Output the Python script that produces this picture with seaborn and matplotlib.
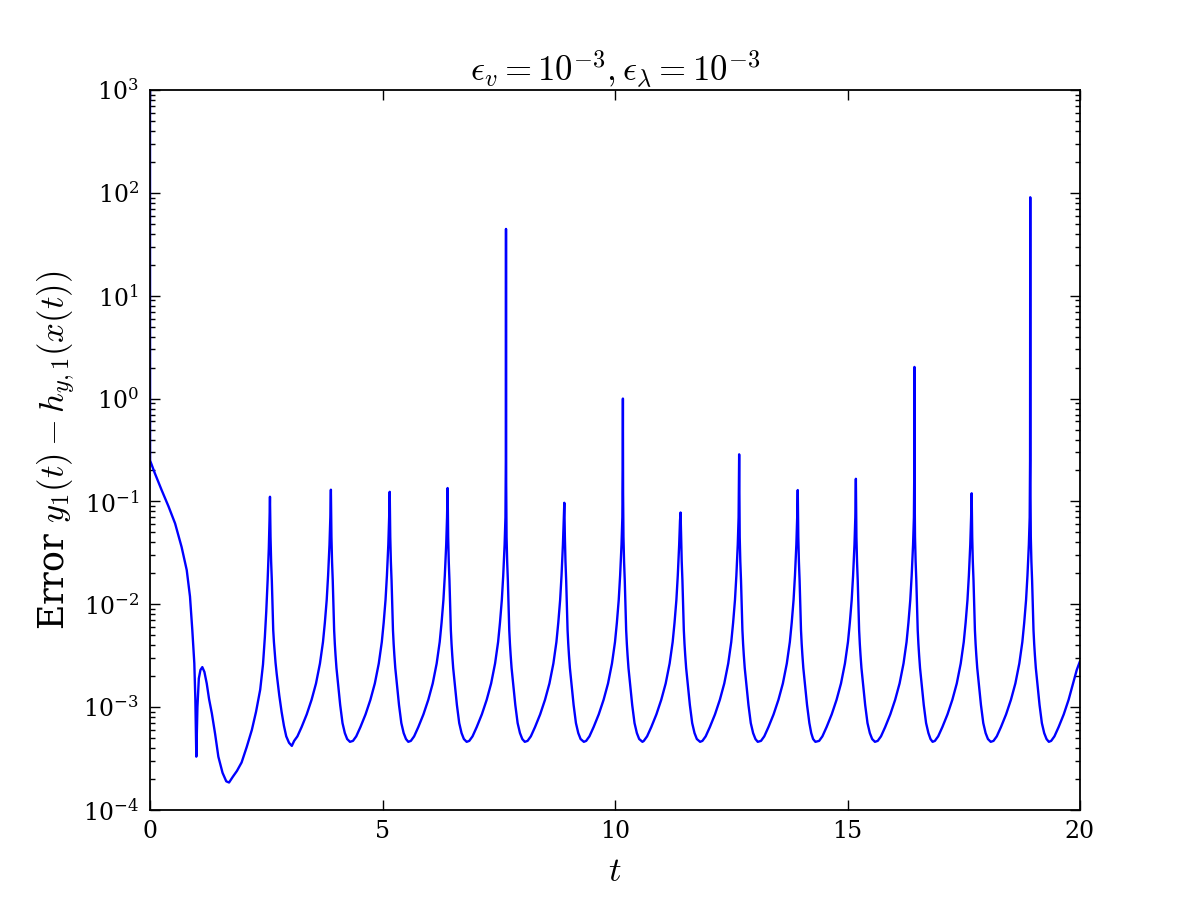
import matplotlib
matplotlib.use("Agg")
import matplotlib.pyplot as plt
import matplotlib.ticker as mticker
import seaborn as sns
import pandas as pd

# ---- data (one line per rise / fall segment) ----
t_vals = [
    0.0, 0.002, 0.1, 0.25, 0.4, 0.54, 0.68, 0.79, 0.86, 0.91, 0.953, 0.975, 0.996,
    1.02, 1.05, 1.085, 1.125, 1.17, 1.22, 1.27, 1.33, 1.40, 1.47, 1.56, 1.64, 1.70,
    1.78, 1.87, 1.97, 2.08, 2.19, 2.28, 2.37, 2.43, 2.47, 2.50, 2.53, 2.555, 2.57, 2.58,
    2.592, 2.605, 2.62, 2.635, 2.65, 2.665, 2.68, 2.70, 2.725, 2.75, 2.78, 2.83, 2.88, 2.93, 2.99, 3.05,
    3.10, 3.17, 3.26, 3.37, 3.475, 3.57, 3.655, 3.72, 3.76, 3.80, 3.83, 3.86, 3.878, 3.89,
    3.902, 3.915, 3.93, 3.945, 3.96, 3.975, 3.99, 4.01, 4.035, 4.06, 4.09, 4.14, 4.19, 4.24, 4.30,
    4.365, 4.435, 4.525, 4.635, 4.74, 4.835, 4.92, 4.985, 5.025, 5.065, 5.095, 5.125, 5.143, 5.155,
    5.167, 5.18, 5.195, 5.21, 5.225, 5.24, 5.255, 5.275, 5.30, 5.325, 5.355, 5.405, 5.455, 5.505, 5.555,
    5.61, 5.68, 5.77, 5.88, 5.985, 6.08, 6.165, 6.23, 6.27, 6.31, 6.34, 6.37, 6.388, 6.40,
    6.412, 6.425, 6.44, 6.455, 6.47, 6.485, 6.50, 6.52, 6.545, 6.57, 6.60, 6.65, 6.70, 6.75, 6.81,
    6.866, 6.936, 7.026, 7.136, 7.241, 7.336, 7.421, 7.486, 7.526, 7.566, 7.596, 7.626, 7.644, 7.652, 7.656,
    7.660, 7.668, 7.681, 7.696, 7.711, 7.726, 7.741, 7.756, 7.776, 7.801, 7.826, 7.856, 7.906, 7.956, 8.006, 8.06,
    8.12, 8.19, 8.28, 8.39, 8.495, 8.59, 8.675, 8.74, 8.78, 8.82, 8.85, 8.88, 8.898, 8.91,
    8.922, 8.935, 8.95, 8.965, 8.98, 8.995, 9.01, 9.03, 9.055, 9.08, 9.11, 9.16, 9.21, 9.26, 9.33,
    9.38, 9.45, 9.54, 9.65, 9.755, 9.85, 9.935, 10.0, 10.04, 10.08, 10.11, 10.14, 10.158, 10.166, 10.17,
    10.174, 10.182, 10.195, 10.21, 10.225, 10.24, 10.255, 10.27, 10.29, 10.315, 10.34, 10.37, 10.42, 10.47, 10.52, 10.59,
    10.62, 10.69, 10.78, 10.89, 10.995, 11.09, 11.175, 11.24, 11.28, 11.32, 11.35, 11.38, 11.398, 11.41,
    11.422, 11.435, 11.45, 11.465, 11.48, 11.495, 11.51, 11.53, 11.555, 11.58, 11.61, 11.66, 11.71, 11.76, 11.83,
    11.88, 11.95, 12.04, 12.15, 12.255, 12.35, 12.435, 12.50, 12.54, 12.58, 12.61, 12.64, 12.658, 12.67,
    12.682, 12.695, 12.71, 12.725, 12.74, 12.755, 12.77, 12.79, 12.815, 12.84, 12.87, 12.92, 12.97, 13.02, 13.07,
    13.14, 13.21, 13.30, 13.41, 13.515, 13.61, 13.695, 13.76, 13.80, 13.84, 13.87, 13.90, 13.918, 13.93,
    13.942, 13.955, 13.97, 13.985, 14.00, 14.015, 14.03, 14.05, 14.075, 14.10, 14.13, 14.18, 14.22, 14.26, 14.31,
    14.39, 14.46, 14.55, 14.66, 14.765, 14.86, 14.945, 15.01, 15.05, 15.09, 15.12, 15.15, 15.168, 15.18,
    15.192, 15.205, 15.22, 15.235, 15.25, 15.265, 15.28, 15.30, 15.325, 15.35, 15.38, 15.43, 15.48, 15.53, 15.59,
    15.65, 15.72, 15.81, 15.92, 16.025, 16.12, 16.205, 16.27, 16.31, 16.35, 16.38, 16.41, 16.428, 16.436, 16.44,
    16.444, 16.452, 16.465, 16.48, 16.495, 16.51, 16.525, 16.54, 16.56, 16.585, 16.61, 16.64, 16.69, 16.74, 16.785, 16.83,
    16.88, 16.95, 17.04, 17.15, 17.255, 17.35, 17.435, 17.50, 17.54, 17.58, 17.61, 17.64, 17.658, 17.67,
    17.682, 17.695, 17.71, 17.725, 17.74, 17.755, 17.77, 17.79, 17.815, 17.84, 17.87, 17.92, 17.97, 18.02, 18.08,
    18.14, 18.21, 18.30, 18.41, 18.515, 18.61, 18.695, 18.76, 18.80, 18.84, 18.87, 18.90, 18.918, 18.926, 18.93,
    18.934, 18.942, 18.955, 18.97, 18.985, 19.00, 19.015, 19.03, 19.05, 19.075, 19.10, 19.13, 19.18, 19.23, 19.28, 19.33,
    19.38, 19.45, 19.54, 19.65, 19.755, 19.85, 19.93, 20.0,
]

err_vals = [
    5e3, 0.25, 0.19, 0.129, 0.089, 0.061, 0.036, 0.0215, 0.0119, 0.0056, 0.00267, 0.0012, 3.3e-4,
    1.0e-3, 1.9e-3, 2.3e-3, 2.45e-3, 2.2e-3, 1.7e-3, 1.2e-3, 8.7e-4, 5.5e-4, 3.3e-4, 2.3e-4, 1.9e-4, 1.85e-4,
    2.1e-4, 2.4e-4, 2.9e-4, 4.1e-4, 6.0e-4, 9.0e-4, 1.48e-3, 2.6e-3, 4.8e-3, 8.5e-3, 1.72e-2, 3.5e-2, 6.5e-2, 0.111,
    0.045, 0.026, 0.017, 9.5e-3, 5.6e-3, 4.3e-3, 3.5e-3, 2.7e-3, 2.1e-3, 1.7e-3, 1.3e-3, 9e-4, 6.6e-4, 5.2e-4, 4.5e-4, 4.2e-4,
    4.7e-4, 5.2e-4, 6.4e-4, 8.5e-4, 1.18e-3, 1.7e-3, 2.66e-3, 4.3e-3, 6.6e-3, 1.1e-2, 1.9e-2, 3.8e-2, 7e-2, 0.13,
    0.045, 0.026, 0.017, 9.5e-3, 5.6e-3, 4.1e-3, 3.2e-3, 2.4e-3, 1.84e-3, 1.42e-3, 1.05e-3, 7.0e-4, 5.6e-4, 4.9e-4, 4.6e-4,
    4.7e-4, 5.2e-4, 6.4e-4, 8.5e-4, 1.18e-3, 1.7e-3, 2.66e-3, 4.3e-3, 6.6e-3, 1.1e-2, 1.9e-2, 3.8e-2, 7e-2, 0.124,
    0.045, 0.026, 0.017, 9.5e-3, 5.6e-3, 4.1e-3, 3.2e-3, 2.4e-3, 1.84e-3, 1.42e-3, 1.05e-3, 7.0e-4, 5.6e-4, 4.9e-4, 4.6e-4,
    4.7e-4, 5.2e-4, 6.4e-4, 8.5e-4, 1.18e-3, 1.7e-3, 2.66e-3, 4.3e-3, 6.6e-3, 1.1e-2, 1.9e-2, 3.8e-2, 7e-2, 0.135,
    0.045, 0.026, 0.017, 9.5e-3, 5.6e-3, 4.1e-3, 3.2e-3, 2.4e-3, 1.84e-3, 1.42e-3, 1.05e-3, 7.0e-4, 5.6e-4, 4.9e-4, 4.6e-4,
    4.7e-4, 5.2e-4, 6.4e-4, 8.5e-4, 1.18e-3, 1.7e-3, 2.66e-3, 4.3e-3, 6.6e-3, 1.1e-2, 1.9e-2, 3.8e-2, 7e-2, 0.25, 44.6,
    0.15, 0.045, 0.026, 0.017, 9.5e-3, 5.6e-3, 4.1e-3, 3.2e-3, 2.4e-3, 1.84e-3, 1.42e-3, 1.05e-3, 7.0e-4, 5.6e-4, 4.9e-4, 4.6e-4,
    4.7e-4, 5.2e-4, 6.4e-4, 8.5e-4, 1.18e-3, 1.7e-3, 2.66e-3, 4.3e-3, 6.6e-3, 1.1e-2, 1.9e-2, 3.8e-2, 7e-2, 0.097,
    0.045, 0.026, 0.017, 9.5e-3, 5.6e-3, 4.1e-3, 3.2e-3, 2.4e-3, 1.84e-3, 1.42e-3, 1.05e-3, 7.0e-4, 5.6e-4, 4.9e-4, 4.6e-4,
    4.7e-4, 5.2e-4, 6.4e-4, 8.5e-4, 1.18e-3, 1.7e-3, 2.66e-3, 4.3e-3, 6.6e-3, 1.1e-2, 1.9e-2, 3.8e-2, 7e-2, 0.2, 1.0,
    0.12, 0.045, 0.026, 0.017, 9.5e-3, 5.6e-3, 4.1e-3, 3.2e-3, 2.4e-3, 1.84e-3, 1.42e-3, 1.05e-3, 7.0e-4, 5.6e-4, 4.9e-4, 4.6e-4,
    4.7e-4, 5.2e-4, 6.4e-4, 8.5e-4, 1.18e-3, 1.7e-3, 2.66e-3, 4.3e-3, 6.6e-3, 1.1e-2, 1.9e-2, 3.8e-2, 6.5e-2, 0.078,
    0.045, 0.026, 0.017, 9.5e-3, 5.6e-3, 4.1e-3, 3.2e-3, 2.4e-3, 1.84e-3, 1.42e-3, 1.05e-3, 7.0e-4, 5.6e-4, 4.9e-4, 4.6e-4,
    4.7e-4, 5.2e-4, 6.4e-4, 8.5e-4, 1.18e-3, 1.7e-3, 2.66e-3, 4.3e-3, 6.6e-3, 1.1e-2, 1.9e-2, 3.8e-2, 7e-2, 0.287,
    0.045, 0.026, 0.017, 9.5e-3, 5.6e-3, 4.1e-3, 3.2e-3, 2.4e-3, 1.84e-3, 1.42e-3, 1.05e-3, 7.0e-4, 5.6e-4, 4.9e-4, 4.6e-4,
    4.7e-4, 5.2e-4, 6.4e-4, 8.5e-4, 1.18e-3, 1.7e-3, 2.66e-3, 4.3e-3, 6.6e-3, 1.1e-2, 1.9e-2, 3.8e-2, 7e-2, 0.129,
    0.045, 0.026, 0.017, 9.5e-3, 5.6e-3, 4.1e-3, 3.2e-3, 2.4e-3, 1.84e-3, 1.42e-3, 1.05e-3, 7.0e-4, 5.6e-4, 4.9e-4, 4.6e-4,
    4.7e-4, 5.2e-4, 6.4e-4, 8.5e-4, 1.18e-3, 1.7e-3, 2.66e-3, 4.3e-3, 6.6e-3, 1.1e-2, 1.9e-2, 3.8e-2, 7e-2, 0.166,
    0.045, 0.026, 0.017, 9.5e-3, 5.6e-3, 4.1e-3, 3.2e-3, 2.4e-3, 1.84e-3, 1.42e-3, 1.05e-3, 7.0e-4, 5.6e-4, 4.9e-4, 4.6e-4,
    4.7e-4, 5.2e-4, 6.4e-4, 8.5e-4, 1.18e-3, 1.7e-3, 2.66e-3, 4.3e-3, 6.6e-3, 1.1e-2, 1.9e-2, 3.8e-2, 7e-2, 0.2, 2.03,
    0.12, 0.045, 0.026, 0.017, 9.5e-3, 5.6e-3, 4.1e-3, 3.2e-3, 2.4e-3, 1.84e-3, 1.42e-3, 1.05e-3, 7.0e-4, 5.6e-4, 4.9e-4, 4.6e-4,
    4.7e-4, 5.2e-4, 6.4e-4, 8.5e-4, 1.18e-3, 1.7e-3, 2.66e-3, 4.3e-3, 6.6e-3, 1.1e-2, 1.9e-2, 3.8e-2, 7e-2, 0.12,
    0.045, 0.026, 0.017, 9.5e-3, 5.6e-3, 4.1e-3, 3.2e-3, 2.4e-3, 1.84e-3, 1.42e-3, 1.05e-3, 7.0e-4, 5.6e-4, 4.9e-4, 4.6e-4,
    4.7e-4, 5.2e-4, 6.4e-4, 8.5e-4, 1.18e-3, 1.7e-3, 2.66e-3, 4.3e-3, 6.6e-3, 1.1e-2, 1.9e-2, 3.8e-2, 7e-2, 0.25, 90.6,
    0.15, 0.045, 0.026, 0.017, 9.5e-3, 5.6e-3, 4.1e-3, 3.2e-3, 2.4e-3, 1.84e-3, 1.42e-3, 1.05e-3, 7.0e-4, 5.6e-4, 4.9e-4, 4.6e-4,
    4.7e-4, 5.2e-4, 6.4e-4, 8.5e-4, 1.18e-3, 1.7e-3, 2.3e-3, 2.8e-3,
]

x_ticks = [0, 5, 10, 15, 20]
y_exponents = [-4, -3, -2, -1, 0, 1, 2, 3]
title_text = r"$\epsilon_v = 10^{-3}, \epsilon_\lambda = 10^{-3}$"
ylabel_text = r"Error $y_1(t) - h_{y,1}(x(t))$"
xlabel_text = r"$t$"

# ---- style ----
sns.set_style("ticks")
plt.rcParams["font.family"] = ["DejaVu Serif"]
plt.rcParams["mathtext.fontset"] = "cm"
for key in ["text.color", "axes.labelcolor", "xtick.color", "ytick.color"]:
    plt.rcParams[key] = "black"

n = min(len(t_vals), len(err_vals))
df = pd.DataFrame({"t": t_vals[:n], "err": err_vals[:n]})

fig = plt.figure(figsize=(12, 9), dpi=100)
ax = fig.add_axes([0.125, 0.1, 0.775, 0.8])

sns.lineplot(data=df, x="t", y="err", ax=ax, color="blue", linewidth=1.7,
             estimator=None, sort=False)

ax.set_yscale("log")
ax.set_xlim(0, 20)
ax.set_ylim(1e-4, 1e3)
ax.set_xticks(x_ticks)
ax.set_xticklabels([str(v) for v in x_ticks])
ax.set_yticks([10.0 ** e for e in y_exponents])
ax.set_yticklabels([r"$\mathregular{10^{%d}}$" % e for e in y_exponents])
ax.yaxis.set_minor_locator(mticker.LogLocator(base=10, subs=range(2, 10), numticks=20))
ax.yaxis.set_minor_formatter(mticker.NullFormatter())

ax.tick_params(axis="both", which="major", direction="in", length=7, width=1,
               top=True, right=True, labelsize=17, color="black", labelcolor="black")
ax.tick_params(axis="y", which="minor", direction="in", length=3.5, width=1,
               left=True, right=True, color="black")
ax.tick_params(axis="x", which="major", pad=7)
ax.tick_params(axis="y", which="major", pad=8)

for s in ax.spines.values():
    s.set_visible(True)
    s.set_linewidth(1.3)
    s.set_color("black")

ax.set_title(title_text, fontsize=25, pad=6)
ax.set_xlabel(xlabel_text, fontsize=25, labelpad=8)
ax.set_ylabel(ylabel_text, fontsize=25)

fig.savefig("out.png", dpi=100)
